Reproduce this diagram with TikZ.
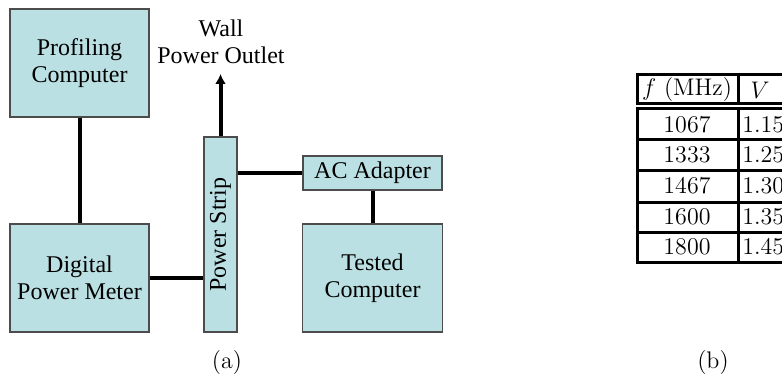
\documentclass[tikz,border=0pt]{standalone}
\usepackage{fontspec}
\usepackage{graphicx}
\usetikzlibrary{arrows.meta}
\newfontfamily\pptfont{Liberation Serif}
\definecolor{boxfill}{RGB}{187,224,227}
\begin{document}
\begin{tikzpicture}[x=0.5pt, y=-0.5pt,
	block/.style={draw=black!70, line width=0.7pt, fill=boxfill, font=\pptfont\fontsize{12}{13.5}\selectfont, align=center, inner sep=0pt},
	wire/.style={line width=2pt},
	rule/.style={line width=1.5pt, line join=miter},
	cell/.style={font=\fontsize{12}{14}\selectfont, inner sep=0pt}]
	\useasboundingbox (0,0) rectangle (782,374);
	\clip (0,0) rectangle (782,374);
	%
	%blocks
	\node[block, minimum width=69.5pt, minimum height=54pt] (prof) at (79.5,63) {Profiling\\Computer};
	\node[block, minimum width=69.5pt, minimum height=54pt] (meter) at (79.5,278) {Digital\\Power Meter};
	\node[block, minimum width=16.5pt, minimum height=97.5pt] (strip) at (220.5,234.5) {\rotatebox{90}{Power Strip}};
	\node[block, minimum width=69.5pt, minimum height=17pt] (adapter) at (372.5,173) {AC Adapter};
	\node[block, minimum width=70pt, minimum height=54pt] (tested) at (372.5,278) {Tested\\Computer};
	\node[font=\pptfont\fontsize{12}{13.5}\selectfont, align=center, inner sep=5pt, anchor=south] (outlet) at (221,74) {Wall\\Power Outlet};
	%
	%wires
	\draw[wire] (prof.south) -- (meter.north);
	\draw[wire] (meter.east) -- (meter.east -| strip.west);
	\draw[wire] (adapter.west -| strip.east) -- (adapter.west);
	\draw[wire] (adapter.south) -- (tested.north);
	\draw[wire, -{Latex[length=5pt, width=5.5pt]}] (strip.north) -- (strip.north |- outlet.south);
	%
	%table
	\draw[rule] (790,75) -- (637,75) -- (637,104) -- (790,104);
	\draw[rule] (738,75) -- (738,104);
	\draw[rule] (790,109) -- (637,109) -- (637,262) -- (790,262);
	\foreach \y in {140,171,202,232}
		\draw[rule] (637,\y) -- (790,\y);
	\draw[rule] (738,109) -- (738,262);
	\node[cell] (fhead) at (687,90) {$f$ (MHz)};
	\node[cell] (vhead) at (760,90) {$V$};
	\foreach \f/\v [count=\i] in {1067/1.15, 1333/1.25, 1467/1.30, 1600/1.35, 1800/1.45} {
		\node[cell] (f\i) at (687, {124.5+30.6*(\i-1)}) {\f};
		\node[cell, anchor=west] (v\i) at (742, {124.5+30.6*(\i-1)}) {\v};
	}
	%
	%captions
	\node[font=\fontsize{12}{14}\selectfont] (capa) at (227,363) {(a)};
	\node[font=\fontsize{12}{14}\selectfont] (capb) at (713,363) {(b)};
\end{tikzpicture}
\end{document}
